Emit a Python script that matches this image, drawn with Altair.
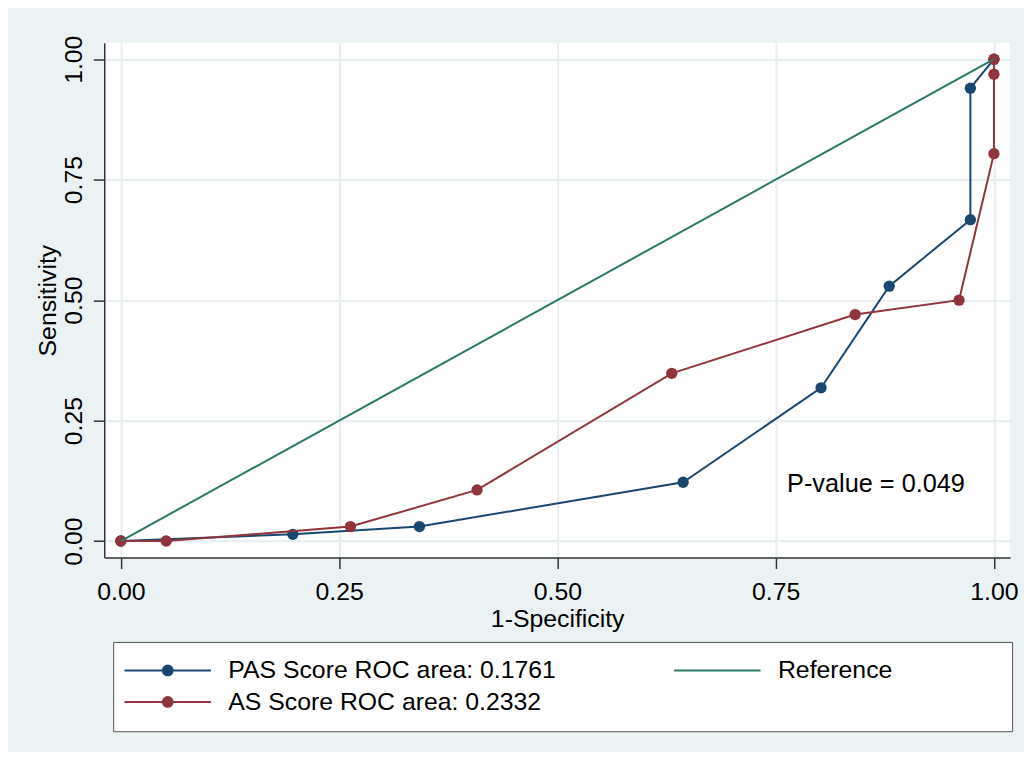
import altair as alt
import pandas as pd

# ---- data ----
pas_x = [0.0, 0.197, 0.342, 0.644, 0.802, 0.880, 0.973, 0.973, 1.0]
pas_y = [0.0, 0.014, 0.030, 0.122, 0.318, 0.529, 0.667, 0.940, 1.0]
as_x = [0.0, 0.052, 0.263, 0.408, 0.631, 0.841, 0.960, 1.0, 1.0, 1.0]
as_y = [0.0, 0.0, 0.030, 0.106, 0.348, 0.470, 0.500, 0.804, 0.969, 1.0]
ref_x = [0.0, 1.0]
ref_y = [0.0, 1.0]

pas_name = "PAS Score ROC area: 0.1761"
as_name = "AS Score ROC area: 0.2332"
ref_name = "Reference"
pas_color = "#1A476F"
as_color = "#90353B"
ref_color = "#2A7866"

tick_values = [0.0, 0.25, 0.5, 0.75, 1.0]
note_x = [0.763]
note_y = [0.118]
note_text = ["P-value = 0.049"]

FONT = "Liberation Sans"
FS = 25

rows = []
for name, xs, ys in [(pas_name, pas_x, pas_y), (ref_name, ref_x, ref_y), (as_name, as_x, as_y)]:
    for i, (a, b) in enumerate(zip(xs, ys)):
        rows.append({"x": a, "y": b, "series": name, "idx": i})
df = pd.DataFrame(rows)
note_df = pd.DataFrame({"x": note_x, "y": note_y, "t": note_text})

x_enc = alt.X("x:Q",
              scale=alt.Scale(domain=[-0.019, 1.0185], nice=False, zero=False),
              axis=alt.Axis(values=tick_values, format=".2f", title="1-Specificity",
                            tickSize=11, labelPadding=11, titlePadding=2))
y_enc = alt.Y("y:Q",
              scale=alt.Scale(domain=[-0.0344, 1.0344], nice=False, zero=False),
              axis=alt.Axis(values=tick_values, format=".2f", title="Sensitivity",
                            tickSize=11, labelAngle=270, labelAlign="center",
                            labelBaseline="bottom", labelPadding=7, titlePadding=1))

base = alt.Chart(df)

def curve(name, color):
    sub = base.transform_filter(alt.datum.series == name)
    line = sub.mark_line(strokeWidth=2).encode(x=x_enc, y=y_enc, stroke=alt.value(color),
                                               order="idx:Q")
    pts = sub.mark_circle(size=130, opacity=1).encode(x=x_enc, y=y_enc, fill=alt.value(color))
    return line, pts

pas_line, pas_pts = curve(pas_name, pas_color)
as_line, as_pts = curve(as_name, as_color)
ref_line = base.transform_filter(alt.datum.series == ref_name).mark_line(
    strokeWidth=2).encode(x=x_enc, y=y_enc, stroke=alt.value(ref_color), order="idx:Q")

note = alt.Chart(note_df).mark_text(align="left", baseline="middle", fontSize=25.5,
                                    font=FONT, color="black").encode(
    x="x:Q", y="y:Q", text="t:N")

# legend (entries fill the grid column by column)
legend_names = [pas_name, as_name, ref_name]
legend_colors = [pas_color, as_color, ref_color]
path_dot = "M-1.55,0H6.36M2.86,0A0.45,0.45,0,1,1,1.96,0A0.45,0.45,0,1,1,2.86,0Z"
path_line = "M-1.55,0H6.36"
# invisible trailing room so the legend box reaches as far right as in the reference
pad = "\u00a0" * 15 + "\u200b"
leg = alt.Legend(title=None, orient="none", legendX=9, legendY=604, columns=2,
                 gridAlign="each", columnPadding=114, rowPadding=6, padding=16,
                 symbolSize=484, symbolStrokeWidth=2, labelOffset=75,
                 labelExpr=f"datum.label == '{ref_name}' ? datum.label + '{pad}' : datum.label",
                 labelFont=FONT, labelFontSize=FS, labelColor="black", labelLimit=700,
                 fillColor="white", strokeColor="#555555")
legend_layer = base.transform_filter("false").mark_point(filled=True, opacity=1).encode(
    x=x_enc, y=y_enc,
    fill=alt.Fill("series:N", scale=alt.Scale(domain=legend_names, range=legend_colors), legend=leg),
    stroke=alt.Stroke("series:N", scale=alt.Scale(domain=legend_names, range=legend_colors), legend=leg),
    shape=alt.Shape("series:N", scale=alt.Scale(domain=legend_names,
                                                range=[path_dot, path_dot, path_line]), legend=leg),
)

chart = alt.layer(pas_line, pas_pts, as_line, as_pts, ref_line, note, legend_layer).properties(
    width=913, height=519,
    autosize=alt.AutoSizeParams(type="none"),
    padding={"left": 97, "top": 32, "right": 14, "bottom": 193},
    background="#EAF2F3",
).configure_view(stroke=None, fill="white").configure_axis(
    domainColor="#333333", domainWidth=1.5, tickColor="#333333", tickWidth=1.5,
    gridColor="#E6EEF0", gridWidth=2,
    labelFont=FONT, labelFontSize=FS, labelColor="black",
    titleFont=FONT, titleFontSize=FS, titleFontWeight="normal", titleColor="black",
)

chart.save("out.html", embed_options={"renderer": "svg", "actions": False})
